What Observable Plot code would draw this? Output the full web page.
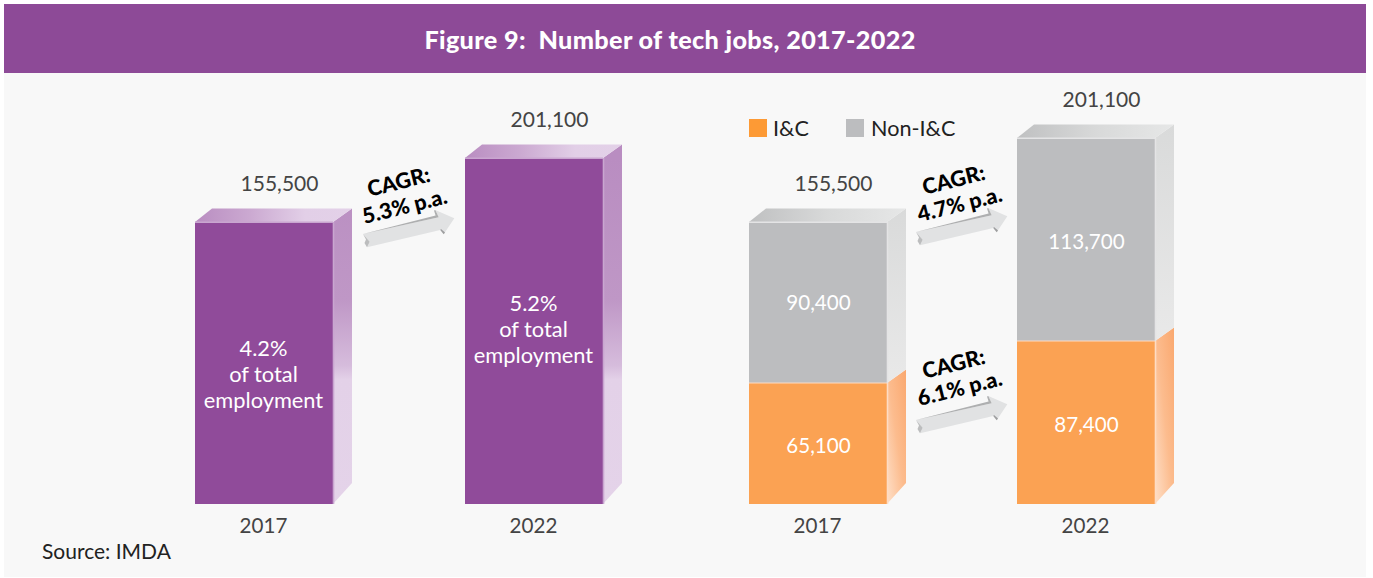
<!DOCTYPE html>
<html lang="en">
<head>
<meta charset="utf-8">
<title>Figure 9: Number of tech jobs, 2017-2022</title>
<script src="https://cdn.jsdelivr.net/npm/d3@7"></script>
<script src="https://cdn.jsdelivr.net/npm/@observablehq/plot@0.6"></script>
<style>
  html, body { margin: 0; padding: 0; background: #fff; overflow: hidden; }
  body { font-family: Lato, sans-serif; }
  #page { position: relative; width: 1373px; height: 578px; }
  #panel { position: absolute; left: 4px; top: 4px; width: 1362px; height: 573px; background: #f8f8f8; }
  #title { position: absolute; left: 4px; top: 4px; width: 1362px; height: 69px; margin: 0;
           background: #8d4a97; color: #fff; font: 900 25.2px/71px Lato, sans-serif; letter-spacing: .35px;
           text-align: center; white-space: pre; box-sizing: border-box; padding-right: 30px; }
  #charts { position: absolute; left: 0; top: 73px; display: flex; }
  #charts svg { display: block; background: transparent; overflow: visible; }
  #legend { position: absolute; left: 749px; top: 119px; height: 18px; font-size: 21.6px; line-height: 18px; color: #222; }
  #legend i { position: absolute; top: 0; width: 18px; height: 18px; }
  #legend span { position: absolute; top: 0; white-space: nowrap; }
  #source { position: absolute; left: 42px; top: 539px; font-size: 21px; line-height: 24px; color: #222; }
</style>
</head>
<body>
<div id="page">
  <div id="panel"></div>
  <h1 id="title"></h1>
  <div id="charts"></div>
  <div id="legend"></div>
  <div id="source"></div>
</div>
<script>
const titleText = "Figure 9:  Number of tech jobs, 2017-2022";
const sourceText = "Source: IMDA";
const years = ["2017", "2022"];
const totals = [155500, 201100];
const shares = ["4.2%\nof total\nemployment", "5.2%\nof total\nemployment"];
const icJobs = [65100, 87400];
const nonIcJobs = [90400, 113700];
const seriesNames = ["I&C", "Non-I&C"];
const cagrTotal = ["CAGR:\n5.3% p.a."];
const cagrNonIc = ["CAGR:\n4.7% p.a."];
const cagrIc = ["CAGR:\n6.1% p.a."];

const FONT = "Lato, sans-serif";
const PURPLE = "#904b9a", ORANGE = "#fba253", GREY = "#bcbdbf", LEGEND_ORANGE = "#fd9a35";
const fmt = d3.format(",");
const HEIGHT = 467, BASE = 431;

document.getElementById("title").textContent = titleText;
document.getElementById("source").textContent = sourceText;
document.getElementById("legend").innerHTML =
  `<i style="left:0;background:${LEGEND_ORANGE}"></i><span style="left:24px">${seriesNames[0]}</span>` +
  `<i style="left:97px;background:${GREY}"></i><span style="left:122px">${seriesNames[1]}</span>`;

// ---- gradients shared by the box faces -------------------------------------
function gradient(defs, id, attrs, stops) {
  const g = defs.append("linearGradient").attr("id", id);
  for (const [k, v] of Object.entries(attrs)) g.attr(k, v);
  for (const [o, c] of stops) g.append("stop").attr("offset", o).attr("stop-color", c);
}

// Side and top faces of a box, computed from the same x / y scales as the bars.
function boxFaces(rows, palette) {
  return (index, scales) => {
    const {x, y} = scales, w = x.bandwidth();
    const g = d3.create("svg:g");
    const defs = g.append("defs");
    for (const [name, id, attrs, stops] of palette) gradient(defs, id, attrs, stops);
    for (const r of rows) {
      const x0 = x(r.year), xr = x0 + w, yb = y(r.y1), yt = y(r.y2);
      const topBack = -13.5, bottomBack = -21;
      const by = r.y1 === 0 ? yb + bottomBack : yb + topBack;
      g.append("polygon")
        .attr("points", [[xr, yb], [xr + 19, by], [xr + 19, yt + topBack], [xr, yt]].join(" "))
        .attr("fill", `url(#${r.side})`);
      g.append("line").attr("x1", xr + .5).attr("x2", xr + .5).attr("y1", yb).attr("y2", yt)
        .attr("stroke", r.edge).attr("stroke-width", 1.6);
      if (r.top) {
        g.append("polygon")
          .attr("points", [[x0, yt], [x0 + 17, yt + topBack], [xr + 19, yt + topBack], [xr, yt]].join(" "))
          .attr("fill", `url(#${r.top})`);
        g.append("line").attr("x1", x0).attr("x2", xr).attr("y1", yt + .2).attr("y2", yt + .2)
          .attr("stroke", r.edge).attr("stroke-width", 1.6);
      } else {
        g.append("line").attr("x1", x0).attr("x2", xr).attr("y1", yt).attr("y2", yt)
          .attr("stroke", r.edge).attr("stroke-width", 1.2);
      }
    }
    return g.node();
  };
}

// Small 3-D block arrow, drawn from a shape template at a spot between two bars.
function blockArrow(year, offsetX, atY) {
  const light = [[0, -1], [75.7, -17.7], [72.3, -25], [91.3, -16.7], [80.7, -.7], [77.3, -5], [4, 12.3], [6.7, 6.7]];
  const dark = [[0, -1], [72.6, -19.5], [71, -24.6], [72.3, -25], [75.7, -17.7]];
  const tail = [[0, -1], [6.7, 6.7], [4, 12.3], [1.5, 8], [3, 4.5]];
  const nick = [[77.3, -5], [80.7, -.7], [82, -2.4], [78, -6]];
  return (index, {x}) => {
    const g = d3.create("svg:g").attr("transform", `translate(${x(year) + x.bandwidth() + offsetX},${atY})`);
    g.append("polygon").attr("points", light.join(" ")).attr("fill", "#e1e2e3");
    g.append("polygon").attr("points", dark.join(" ")).attr("fill", "#aeafb0");
    g.append("polygon").attr("points", tail.join(" ")).attr("fill", "#bcbdbe");
    g.append("polygon").attr("points", nick.join(" ")).attr("fill", "#9d9e9f");
    return g.node();
  };
}

const cagrText = (label, dx, dy) => Plot.text(label, {
  frameAnchor: "top-left", textAnchor: "middle", lineAnchor: "middle", dx, dy, text: d => d, rotate: -14,
  fontFamily: FONT, fontWeight: 900, fontSize: 21.5, lineHeight: 1.17, fill: "#000"
});
const axis = () => Plot.axisX({
  tickSize: 0, tickPadding: 14, label: null, fontSize: 20.6, fill: "#444", fontFamily: FONT, dx: -1
});
const topLabels = rows => Plot.text(rows, {
  x: "year", y: "total", text: d => fmt(d.total), dx: 15, dy: -38,
  fontFamily: FONT, fontSize: 21, fill: "#444"
});
const shareText = (rows, dy) => Plot.text(rows, {
  x: "year", y: d => d.total / 2, dy, dx: -1, text: "share",
  fontFamily: FONT, fontSize: 21.8, lineHeight: 26 / 21.8, fill: "#fff"
});
const segmentText = (rows, dy) => Plot.text(rows, {
  x: "year", y: d => (d.y1 + d.y2) / 2, text: d => fmt(d.value), dy,
  fontFamily: FONT, fontSize: 20.6, fill: "#fff"
});

// ---- left panel: totals ------------------------------------------------------
const leftRows = years.map((year, i) => ({
  year, total: totals[i], share: shares[i], y1: 0, y2: totals[i],
  side: "sidePurple", top: "topPurple", edge: "#c9a6d0"
}));
const left = Plot.plot({
  width: 690, height: HEIGHT,
  marginLeft: 0, marginRight: 0, marginTop: 0, marginBottom: HEIGHT - BASE,
  style: {background: "transparent", fontFamily: FONT},
  x: {type: "band", domain: years, range: [195, 603], paddingInner: 1 - 138 / 270, paddingOuter: 0, axis: null},
  y: {type: "linear", domain: [0, totals[0], totals[1]], range: [BASE, 149, 85], axis: null},
  marks: [
    Plot.barY(leftRows, {x: "year", y: "total", fill: PURPLE}),
    boxFaces(leftRows, [
      ["s", "sidePurple", {gradientUnits: "userSpaceOnUse", x1: 0, x2: 0, y1: 85, y2: 431},
        [[0, "#b98dc1"], [.41, "#bf97c6"], [.6, "#d6bcdc"], [.64, "#e3d1e8"], [1, "#e4d3e9"]]],
      ["t", "topPurple", {x1: 0, x2: 1, y1: 0, y2: 0},
        [[0, "#b98dc1"], [.35, "#cba9d1"], [.7, "#e2cfe7"], [1, "#e3d1e8"]]]
    ]),
    blockArrow("2017", 30, 162),
    cagrText(cagrTotal, 401, 120),
    topLabels(leftRows),
    shareText(leftRows.slice(0, 1), 10),
    shareText(leftRows.slice(1), 7),
    axis()
  ]
});

// ---- right panel: I&C and Non-I&C stacked --------------------------------------
const stackRows = years.flatMap((year, i) => [
  {year, name: seriesNames[0], value: icJobs[i], y1: 0, y2: icJobs[i], total: totals[i],
   side: "sideOrange", top: null, edge: "#fedcc4"},
  {year, name: seriesNames[1], value: nonIcJobs[i], y1: icJobs[i], y2: totals[i], total: totals[i],
   side: "sideGrey", top: "topGrey", edge: "#e4e4e5"}
]);
const right = Plot.plot({
  width: 683, height: HEIGHT,
  marginLeft: 0, marginRight: 0, marginTop: 0, marginBottom: HEIGHT - BASE,
  style: {background: "transparent", fontFamily: FONT},
  x: {type: "band", domain: years, range: [59, 465], paddingInner: 1 - 138 / 268, paddingOuter: 0, axis: null},
  y: {type: "linear", domain: [0, icJobs[0], icJobs[1], totals[0], totals[1]], range: [BASE, 310, 268, 149, 65], axis: null},
  color: {domain: seriesNames, range: [ORANGE, GREY]},
  marks: [
    Plot.barY(stackRows, {x: "year", y: "value", fill: "name", order: seriesNames}),
    boxFaces(stackRows, [
      ["s", "sideOrange", {x1: 1, x2: 0, y1: 0, y2: 1},
        [[0, "#faa86f"], [.5, "#fcbc8e"], [1, "#fee0c9"]]],
      ["g", "sideGrey", {x1: 0, x2: 0, y1: 0, y2: 1},
        [[0, "#d9dada"], [1, "#e9e9e9"]]],
      ["t", "topGrey", {x1: 0, x2: 1, y1: 0, y2: 0},
        [[0, "#bfc0c1"], [.5, "#d8d9d9"], [1, "#e6e7e7"]]]
    ]),
    blockArrow("2017", 29, 160),
    blockArrow("2017", 29, 348),
    cagrText(cagrNonIc, 266, 118),
    cagrText(cagrIc, 266, 302),
    topLabels(stackRows.filter(d => d.name === seriesNames[1])),
    segmentText(stackRows.filter(d => d.value !== nonIcJobs[1]), 2),
    segmentText(stackRows.filter(d => d.value === nonIcJobs[1]), .5),
    axis()
  ]
});

document.getElementById("charts").append(left, right);
</script>
</body>
</html>
